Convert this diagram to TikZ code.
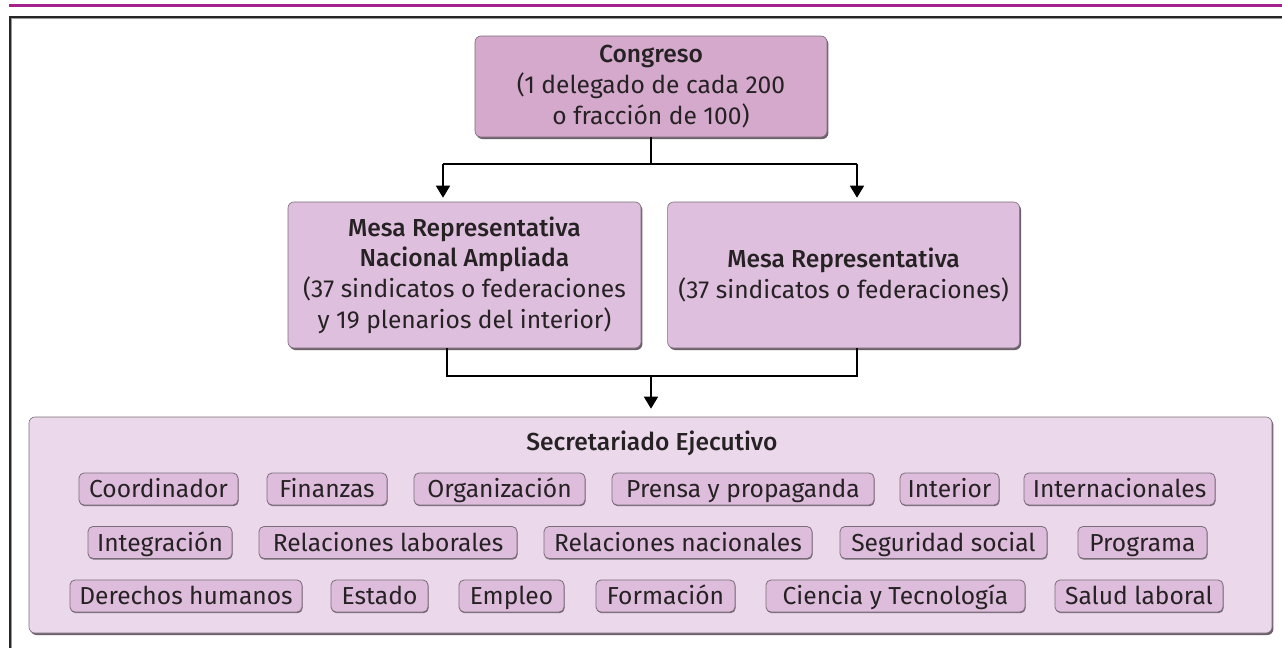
\documentclass[tikz,border=0pt]{standalone}
\usepackage{fontspec}
\setmainfont{Fira Sans}[BoldFont={Fira Sans Medium}]
\usetikzlibrary{arrows.meta,positioning,shadows}
\definecolor{RuleMagenta}{HTML}{A3238E}
\definecolor{CongresoFill}{HTML}{D4A9CC}
\definecolor{MesaFill}{HTML}{DEBFDD}
\definecolor{SecFill}{HTML}{EBD9EB}
\definecolor{CargoFill}{HTML}{DDBDDB}
\definecolor{EdgeGray}{HTML}{7A6C78}
\definecolor{ShadeGray}{HTML}{5C505A}
\definecolor{InkGray}{HTML}{262224}

\begin{document}
\begin{tikzpicture}[
  x=0.5pt,y=-0.5pt,
  font=\fontsize{12.3}{15.3}\selectfont,
  text=InkGray,
  organo/.style={rounded corners=3pt,fill=MesaFill,draw=EdgeGray,line width=0.3pt,align=center,inner sep=0pt,
    drop shadow={shadow xshift=0.7pt,shadow yshift=-1pt,fill=ShadeGray,opacity=0.9}},
  cargo/.style={rounded corners=2.5pt,fill=CargoFill,draw=EdgeGray,line width=0.4pt,minimum height=16pt,inner sep=0pt,
    text height=9.5pt,text depth=1pt,
    drop shadow={shadow xshift=0.3pt,shadow yshift=-0.6pt,fill=ShadeGray,opacity=0.8}},
  arrow/.style={-{Triangle[width=7pt,length=6pt]},line width=0.8pt},
  link/.style={line width=0.8pt}
]
\useasboundingbox (0,0) rectangle (1282,648);
% page rule and frame
\draw[RuleMagenta,line width=1.6pt] (9,5.5) -- (1282,5.5);
\draw[black!40,line width=0.5pt] (11,18.5) -- (1282,18.5);
\draw[black!40,line width=0.5pt] (11,18.5) -- (11,648);
\draw[black!85,line width=0.6pt] (1282,17) -- (10,17) -- (10,648);

\node[organo,fill=CongresoFill,minimum width=176pt,minimum height=50.5pt] (congreso) at (651,86.5)
  {\bfseries Congreso\\(1 delegado de cada 200\\o fracción de 100)};
\node[organo,minimum width=176.5pt,minimum height=73pt] (mesaAmpliada) at (464.5,275)
  {\bfseries Mesa Representativa\\\bfseries Nacional Ampliada\\(37 sindicatos o federaciones\\y 19 plenarios del interior)};
\node[organo,minimum width=176pt,minimum height=73pt,right=13pt of mesaAmpliada] (mesa)
  {\bfseries Mesa Representativa\\(37 sindicatos o federaciones)};
\node[organo,fill=SecFill,minimum width=621.5pt,minimum height=108pt] (secretariado) at (650.5,525) {};
\node (titulo) at (652,443) {\bfseries Secretariado Ejecutivo};

% first row
\node[cargo,minimum width=79.5pt] (coordinador) at (158.5,489) {Coordinador};
\node[cargo,minimum width=60pt] (finanzas) at (327,489) {Finanzas};
\node[cargo,minimum width=85.5pt] (organizacion) at (499.5,489) {Organización};
\node[cargo,minimum width=131pt] (prensa) at (743,489) {Prensa y propaganda};
\node[cargo,minimum width=49.5pt] (interior) at (949.5,489) {Interior};
\node[cargo,minimum width=95.5pt] (internacionales) at (1119.5,489) {Internacionales};
% second row
\node[cargo,minimum width=72pt] (integracion) at (160,542.5) {Integración};
\node[cargo,minimum width=129pt] (laborales) at (388,542.5) {Relaciones laborales};
\node[cargo,minimum width=134pt] (nacionales) at (678,542.5) {Relaciones nacionales};
\node[cargo,minimum width=103.5pt] (seguridad) at (943.5,542.5) {Seguridad social};
\node[cargo,minimum width=64.5pt] (programa) at (1142.5,542.5) {Programa};
% third row
\node[cargo,minimum width=116pt] (derechos) at (186,596) {Derechos humanos};
\node[cargo,minimum width=48.5pt] (estado) at (379.5,596) {Estado};
\node[cargo,minimum width=52.5pt] (empleo) at (511.5,596) {Empleo};
\node[cargo,minimum width=69.5pt] (formacion) at (665.5,596) {Formación};
\node[cargo,minimum width=129.5pt] (ciencia) at (895.5,596) {Ciencia y Tecnología};
\node[cargo,minimum width=84pt] (salud) at (1139,596) {Salud laboral};

% connectors
\coordinate (topL) at (443,164);
\coordinate (topR) at (857,164);
\coordinate (botL) at (447,376);
\coordinate (botR) at (857,376);
\coordinate (botC) at (651,376);
\draw[link] (congreso.south) -- (congreso.south |- topL);
\draw[link] (topL) -- (topR);
\draw[arrow,shorten >=2pt] (topL) -- (topL |- mesaAmpliada.north);
\draw[arrow,shorten >=2pt] (topR) -- (topR |- mesa.north);
\draw[link] (botL |- mesaAmpliada.south) -- (botL) -- (botR) -- (botR |- mesa.south);
\draw[arrow,shorten >=4pt] (botC) -- (botC |- secretariado.north);
\end{tikzpicture}
\end{document}
